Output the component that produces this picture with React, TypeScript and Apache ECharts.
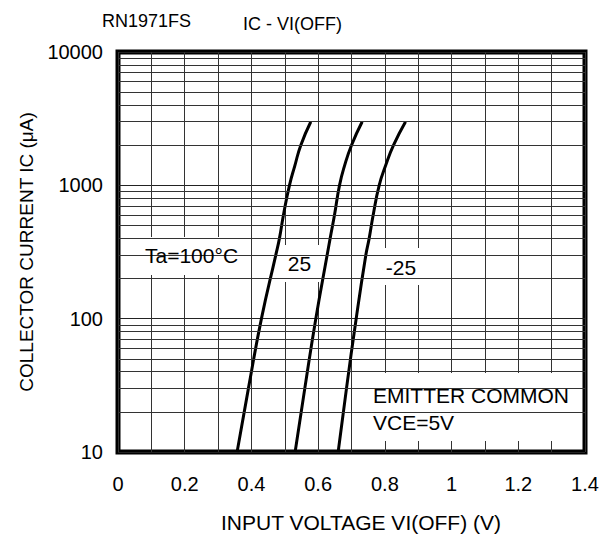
import React, { useEffect, useRef } from "react";
import * as echarts from "echarts";

// Collector current values (µA) at which curve voltages were read
const currents = [10, 30, 100, 300, 400, 600, 1000, 1400, 2000, 3000];
// Input voltage VI(OFF) (V) for each temperature
const v100 = [0.357, 0.391, 0.43, 0.473, 0.484, 0.496, 0.514, 0.53, 0.548, 0.578];
const v25 = [0.531, 0.56, 0.593, 0.627, 0.636, 0.649, 0.664, 0.679, 0.7, 0.732];
const vm25 = [0.66, 0.685, 0.714, 0.743, 0.753, 0.765, 0.783, 0.802, 0.826, 0.862];

// Minor log grid lines
const minorGrid = [
  20, 30, 40, 50, 60, 70, 80, 90,
  200, 300, 400, 500, 600, 700, 800, 900,
  2000, 3000, 4000, 5000, 6000, 7000, 8000, 9000,
];

const FONT = "'Liberation Sans', Arial, sans-serif";

const toPairs = (vs: number[]) => vs.map((v, i) => [v, currents[i]]);

export default function App() {
  const ref = useRef<HTMLDivElement>(null);
  useEffect(() => {
    if (!ref.current) return;
    const chart = echarts.init(ref.current, undefined, { renderer: "svg" });
    const curveStyle = { color: "#000", width: 3 };
    const txt = (text: string, x: number, y: number, size: number, align = "left") => ({
      type: "text",
      x,
      y,
      z: 10,
      style: {
        text,
        font: `${size}px ${FONT}`,
        fill: "#000",
        textAlign: align,
        textVerticalAlign: "middle",
      },
    });
    chart.setOption({
      animation: false,
      backgroundColor: "#fff",
      grid: {
        left: 118,
        right: 31,
        top: 52,
        bottom: 87,
        show: true,
        borderColor: "#000",
        borderWidth: 5,
        backgroundColor: "transparent",
      },
      xAxis: {
        type: "value",
        min: 0,
        max: 1.4,
        interval: 0.1,
        name: "INPUT VOLTAGE VI(OFF) (V)",
        nameLocation: "middle",
        nameGap: 60,
        nameTextStyle: { fontSize: 21, color: "#000", fontFamily: FONT, fontWeight: "normal", padding: [0, 0, 0, 19] },
        axisLine: { show: false },
        axisTick: { show: false },
        axisLabel: {
          fontSize: 20,
          color: "#000",
          fontFamily: FONT,
          fontWeight: "normal",
          margin: 22,
          formatter: (v: number) => {
            const t = Math.round(v * 10);
            return t % 2 === 0 ? String(t / 10) : "";
          },
        },
        splitLine: { show: true, lineStyle: { color: "#333", width: 1 } },
      },
      yAxis: {
        type: "log",
        logBase: 10,
        min: 10,
        max: 10000,
        name: "COLLECTOR CURRENT IC (μA)",
        nameLocation: "middle",
        nameGap: 73,
        nameTextStyle: { fontSize: 19, color: "#000", fontFamily: FONT, fontWeight: "normal" },
        axisLine: { show: false },
        axisTick: { show: false },
        axisLabel: {
          fontSize: 20,
          color: "#000",
          fontFamily: FONT,
          fontWeight: "normal",
          margin: 15,
          formatter: (v: number) => String(Math.round(v)),
        },
        splitLine: { show: true, lineStyle: { color: "#222", width: 1.2 } },
      },
      series: [
        {
          type: "line",
          name: "grid",
          data: [],
          z: 1,
          silent: true,
          markLine: {
            silent: true,
            symbol: ["none", "none"],
            label: { show: false },
            lineStyle: { color: "#333", width: 1, type: "solid" },
            data: minorGrid.map((y) => ({ yAxis: y })),
          },
        },
        { type: "line", name: "100", data: toPairs(v100), smooth: 0.5, symbol: "none", lineStyle: curveStyle, z: 4 },
        { type: "line", name: "25", data: toPairs(v25), smooth: 0.5, symbol: "none", lineStyle: curveStyle, z: 4 },
        { type: "line", name: "-25", data: toPairs(vm25), smooth: 0.5, symbol: "none", lineStyle: curveStyle, z: 4 },
      ],
      graphic: [
        txt("RN1971FS", 102, 21, 18),
        txt("IC - VI(OFF)", 243, 24, 18),
        { type: "rect", z: 3, shape: { x: 135, y: 237, width: 116, height: 38 }, style: { fill: "#fff" } },
        txt("Ta=100°C", 145, 255, 21),
        { type: "rect", z: 3, shape: { x: 279, y: 245, width: 41, height: 37 }, style: { fill: "#fff" } },
        txt("25", 299.5, 263, 21, "center"),
        { type: "rect", z: 3, shape: { x: 377, y: 248, width: 48, height: 37 }, style: { fill: "#fff" } },
        txt("-25", 401, 267, 21, "center"),
        { type: "rect", z: 3, shape: { x: 366, y: 373, width: 216, height: 68 }, style: { fill: "#fff" } },
        txt("EMITTER COMMON", 373, 395, 21),
        txt("VCE=5V", 373, 422, 21),
      ],
    });
    return () => chart.dispose();
  }, []);
  return (
    <div
      ref={ref}
      style={{ position: "fixed", left: 0, top: 0, width: 616, height: 539 }}
    />
  );
}
